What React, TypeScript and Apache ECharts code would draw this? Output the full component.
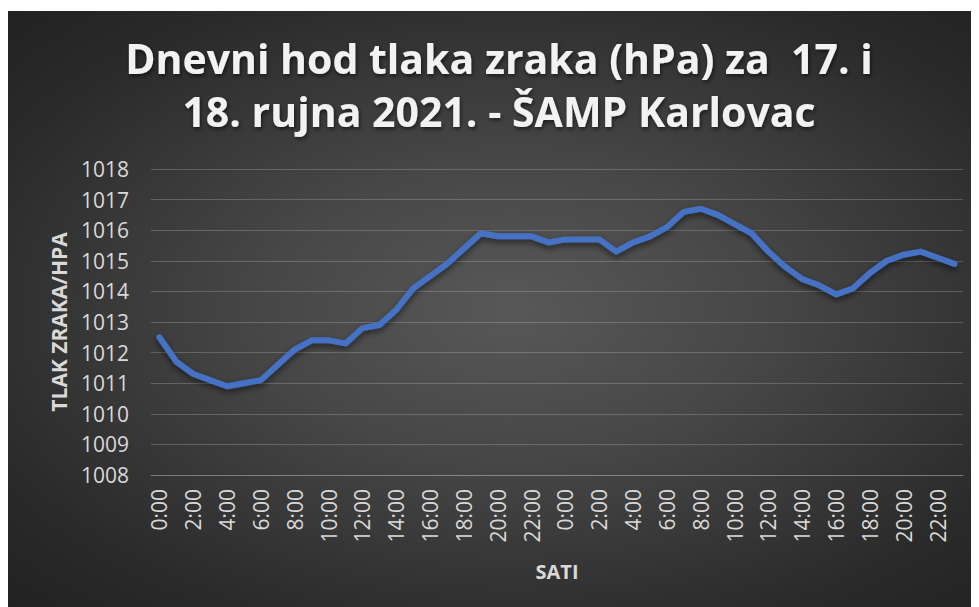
import React, { useEffect, useRef } from "react";
import * as echarts from "echarts";

const titleLines = ["Dnevni hod tlaka zraka (hPa) za  17. i", "18. rujna 2021. - ŠAMP Karlovac"];
const yAxisName = "TLAK ZRAKA/HPA";
const xAxisName = "SATI";
const hours: string[] = [];
for (let d = 0; d < 2; d++) for (let h = 0; h < 24; h++) hours.push(h + ":00");
const pressure = [
  1012.5, 1011.7, 1011.3, 1011.1, 1010.9, 1011.0, 1011.1, 1011.6, 1012.1, 1012.4,
  1012.4, 1012.3, 1012.8, 1012.9, 1013.4, 1014.1, 1014.5, 1014.9, 1015.4, 1015.9,
  1015.8, 1015.8, 1015.8, 1015.6, 1015.7, 1015.7, 1015.7, 1015.3, 1015.6, 1015.8,
  1016.1, 1016.6, 1016.7, 1016.5, 1016.2, 1015.9, 1015.3, 1014.8, 1014.4, 1014.2,
  1013.9, 1014.1, 1014.6, 1015.0, 1015.2, 1015.3, 1015.1, 1014.9,
];
const yMin = 1008;
const yMax = 1018;

export default function App() {
  const ref = useRef<HTMLDivElement>(null);
  useEffect(() => {
    if (!ref.current) return;
    const chart = echarts.init(ref.current, null, { renderer: "svg" });
    const font = "'Open Sans', sans-serif";
    chart.setOption({
      animation: false,
      graphic: titleLines.map((t, i) => ({
        type: "text",
        x: 491,
        y: 47 + i * 53,
        style: {
          text: t,
          fill: "#f2f2f2",
          font: `bold 41px ${font}`,
          align: "center",
          verticalAlign: "middle",
          textShadowColor: "rgba(0,0,0,0.6)",
          textShadowBlur: 4,
          textShadowOffsetX: 1,
          textShadowOffsetY: 2,
        },
      })),
      grid: { left: 143, right: 16, top: 158, bottom: 132 },
      xAxis: {
        type: "category",
        data: hours,
        boundaryGap: true,
        name: xAxisName,
        nameLocation: "middle",
        nameGap: 86,
        nameTextStyle: { color: "#d9d9d9", fontFamily: font, fontWeight: "bold", fontSize: 20 },
        axisLine: { show: true, lineStyle: { color: "rgba(217,217,217,0.25)", width: 1 } },
        axisTick: { show: false },
        axisLabel: { interval: 1, rotate: 90, color: "#d9d9d9", fontFamily: font, fontSize: 21, margin: 14 },
      },
      yAxis: {
        type: "value",
        min: yMin,
        max: yMax,
        interval: 1,
        name: yAxisName,
        nameLocation: "middle",
        nameGap: 82,
        nameTextStyle: { color: "#d9d9d9", fontFamily: font, fontWeight: "bold", fontSize: 21 },
        axisLine: { show: false },
        axisTick: { show: false },
        axisLabel: {
          color: "#d9d9d9",
          fontFamily: font,
          fontSize: 21,
          margin: 22,
          formatter: (v: number) => String(v),
        },
        splitLine: { lineStyle: { color: "rgba(217,217,217,0.25)", width: 1 } },
      },
      series: [
        {
          type: "line",
          data: pressure,
          symbol: "none",
          lineStyle: {
            color: "#4472c4",
            width: 6,
            cap: "round",
            join: "round",
            shadowColor: "rgba(0,0,0,0.55)",
            shadowBlur: 6,
            shadowOffsetY: 3,
          },
        },
      ],
    });
    return () => chart.dispose();
  }, []);
  return (
    <div style={{ paddingTop: 3 }}>
      <div
        ref={ref}
        style={{
          width: 971,
          height: 596,
          background:
            "radial-gradient(ellipse farthest-corner at 52% 50%, #585858 0%, #474747 35%, #2a2a2a 80%, #222222 100%)",
        }}
      />
    </div>
  );
}
